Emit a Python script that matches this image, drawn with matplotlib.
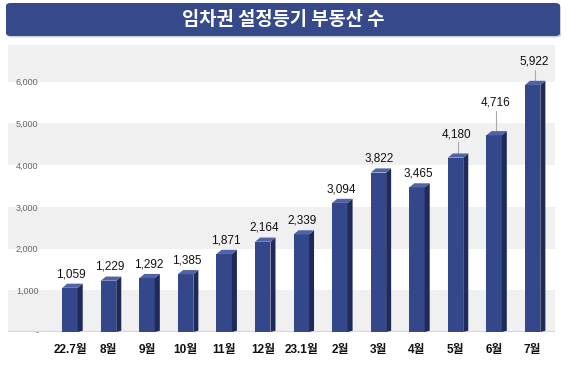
import numpy as np
import matplotlib.pyplot as plt
from matplotlib.patches import Polygon, FancyBboxPatch
from matplotlib.ticker import FuncFormatter

plt.rcParams['font.family'] = ['Liberation Sans', 'Noto Sans CJK KR', 'DejaVu Sans']

# 데이터
months = ['22.7월', '8월', '9월', '10월', '11월', '12월', '23.1월',
          '2월', '3월', '4월', '5월', '6월', '7월']
counts = [1059, 1229, 1292, 1385, 1871, 2164, 2339,
          3094, 3822, 3465, 4180, 4716, 5922]
yticks = [0, 1000, 2000, 3000, 4000, 5000, 6000]
title = '임차권 설정등기 부동산 수'

front = '#34478a'
side = '#1e2a57'
top = '#5063a6'

fig = plt.figure(figsize=(5.67, 3.75), dpi=100)
W, H = 567, 375

# 제목 배너
shadow = FancyBboxPatch((7 / W, 1 - 37.5 / H), 554 / W, 33 / H,
                        boxstyle='round,pad=0,rounding_size=0.008',
                        transform=fig.transFigure, fc='#d0d0d0', ec='none')
fig.patches.append(shadow)
banner = FancyBboxPatch((6 / W, 1 - 36 / H), 554 / W, 33 / H,
                        boxstyle='round,pad=0,rounding_size=0.008',
                        transform=fig.transFigure, fc='#364a8b', ec='none')
fig.patches.append(banner)
fig.text(0.5, 1 - 19.5 / H, title, color='white', fontsize=13.5,
         fontweight='bold', ha='center', va='center',
         family=['Noto Sans CJK KR'])

ax = fig.add_axes([8 / W, 1 - 332 / H, 547 / W, 287 / H])
x = np.arange(len(months))
ax.set_xlim(-1.608, 12.58)
ax.set_ylim(0, 6880)

# 배경 띠
for lo in [0, 2000, 4000, 6000]:
    ax.axhspan(lo, lo + 1000, color='#f0f0f0', lw=0, zorder=0)

w = 0.40
dx = 0.13
dy = 100
ax.bar(x, counts, width=w, color=front, zorder=3)
for xi, v in zip(x, counts):
    r = xi + w / 2
    l = xi - w / 2
    ax.add_patch(Polygon([[r, 0], [r + dx, dy * 0.3], [r + dx, v + dy], [r, v]],
                         closed=True, fc=side, ec='none', zorder=3))
    ax.add_patch(Polygon([[l, v], [r, v], [r + dx, v + dy], [l + dx, v + dy]],
                         closed=True, fc=top, ec='none', zorder=3))

# 값 라벨 (마지막 세 개는 지시선)
lift = {10: 560, 11: 780, 12: 560}
for xi, v in zip(x, counts):
    off = lift.get(xi, 330)
    ax.text(xi + 0.03, v + off, f'{v:,}', ha='center', va='center',
            fontsize=8.5, color='#111111', zorder=4)
    if xi in lift:
        ax.plot([xi + 0.06, xi + 0.06], [v + off - 190, v + dy],
                color='#aaaaaa', lw=0.8, zorder=2)

ax.set_yticks(yticks)
ax.yaxis.set_major_formatter(FuncFormatter(lambda v, p: '-' if v == 0 else f'{int(v):,}'))
ax.tick_params(axis='y', length=0, pad=-22, labelsize=6.5, labelcolor='#666666')
for lab in ax.get_yticklabels():
    lab.set_horizontalalignment('right')

ax.set_xticks(x)
ax.set_xticklabels(months, fontsize=8.5, fontweight='bold', color='#111111')
ax.tick_params(axis='x', length=0, pad=9)

ax.axhline(0, color='#d8d8d8', lw=1.5, zorder=1)
for s in ax.spines.values():
    s.set_visible(False)

fig.savefig('out.png', dpi=100)
